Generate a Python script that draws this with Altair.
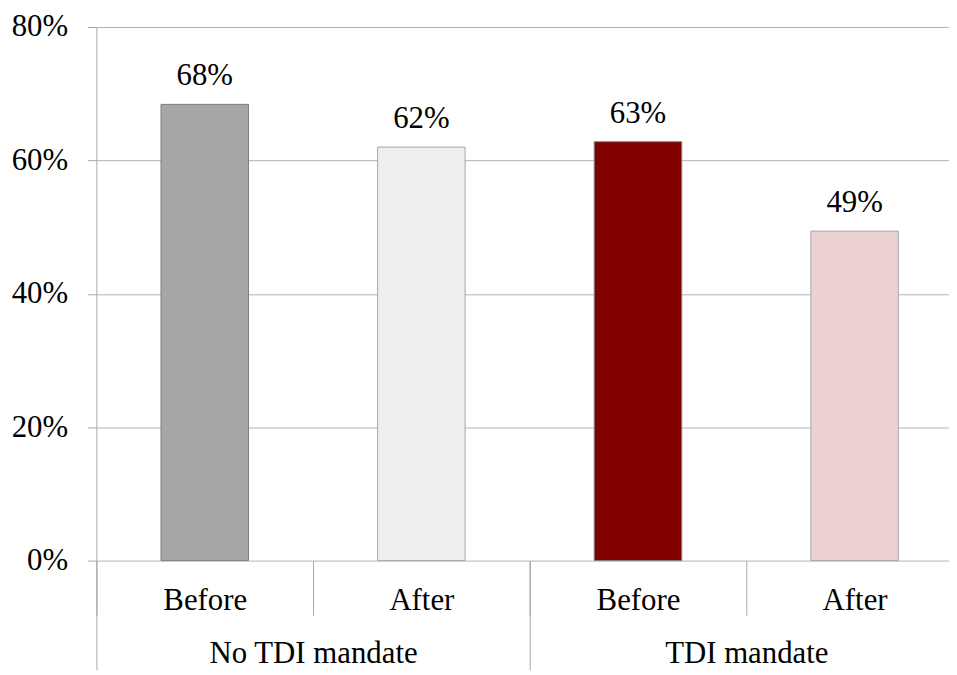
import altair as alt
import pandas as pd

groups = ["No TDI mandate", "No TDI mandate", "TDI mandate", "TDI mandate"]
phases = ["Before", "After", "Before", "After"]
values = [0.684, 0.620, 0.628, 0.494]
y_ticks = [0.0, 0.2, 0.4, 0.6, 0.8]

slots = [g + "|" + p for g, p in zip(groups, phases)]
df = pd.DataFrame({"group": groups, "phase": phases, "slot": slots, "value": values})

fill_colors = ["#a6a6a6", "#efefef", "#800000", "#ecd2d2"]
stroke_colors = ["#7f7f7f", "#a6a6a6", "#7f7f7f", "#a6a6a6"]
FONT = "Liberation Serif"
FS = 31
GREY = "#a6a6a6"
XRANGE = [0, 872]

base = alt.Chart(df)

x_slot = alt.X(
    "slot:N", sort=slots,
    scale=alt.Scale(range=XRANGE, paddingInner=0, paddingOuter=0),
    axis=alt.Axis(title=None, orient="bottom", domain=False, grid=False,
                  tickBand="extent", tickSize=55, tickColor=GREY, tickWidth=1,
                  labelPadding=-30, labelFont=FONT, labelFontSize=FS,
                  labelColor="black", labelAngle=0, labelLimit=0,
                  labelExpr="split(datum.label, '|')[1]"),
)
y_enc = alt.Y(
    "value:Q", scale=alt.Scale(domain=[0, 0.8]),
    axis=alt.Axis(title=None, values=y_ticks, format=".0%", domainColor=GREY,
                  tickColor=GREY, tickSize=9, gridColor="#b3b3b3",
                  labelPadding=20, labelFont=FONT, labelFontSize=FS,
                  labelColor="black"),
)

bars = base.mark_bar(width=alt.RelativeBandSize(0.404), strokeWidth=1).encode(
    x=x_slot,
    y=y_enc,
    fill=alt.Fill("slot:N", scale=alt.Scale(domain=slots, range=fill_colors), legend=None),
    stroke=alt.Stroke("slot:N", scale=alt.Scale(domain=slots, range=stroke_colors), legend=None),
)
labels = base.mark_text(baseline="alphabetic", dy=-19, font=FONT, fontSize=FS,
                        color="black").encode(
    x=alt.X("slot:N", sort=slots),
    y=alt.Y("value:Q"),
    text=alt.Text("value:Q", format=".0%"),
)
slot_layer = alt.layer(bars, labels)

group_layer = base.mark_point(opacity=0).encode(
    x=alt.X("group:N",
            scale=alt.Scale(range=XRANGE, paddingInner=0, paddingOuter=0),
            axis=alt.Axis(title=None, orient="bottom", domain=False, grid=False,
                          tickBand="extent", tickSize=110, tickColor=GREY,
                          tickWidth=1, labelPadding=-7, labelBaseline="alphabetic",
                          labelFont=FONT, labelFontSize=FS, labelColor="black",
                          labelAngle=0, labelLimit=0)),
    y=alt.Y("value:Q"),
)

chart = alt.layer(slot_layer, group_layer).resolve_scale(x="independent").properties(
    width=858, height=537,
    autosize=alt.AutoSizeParams(type="none"),
    padding={"left": 89, "top": 17, "right": 0, "bottom": 111},
).configure_view(stroke=None).configure_axis(
    labelFont=FONT, labelFontSize=FS, labelColor="black"
).configure_text(font=FONT, fontSize=FS)

chart.save("out.html", embed_options={"renderer": "svg", "actions": False})
